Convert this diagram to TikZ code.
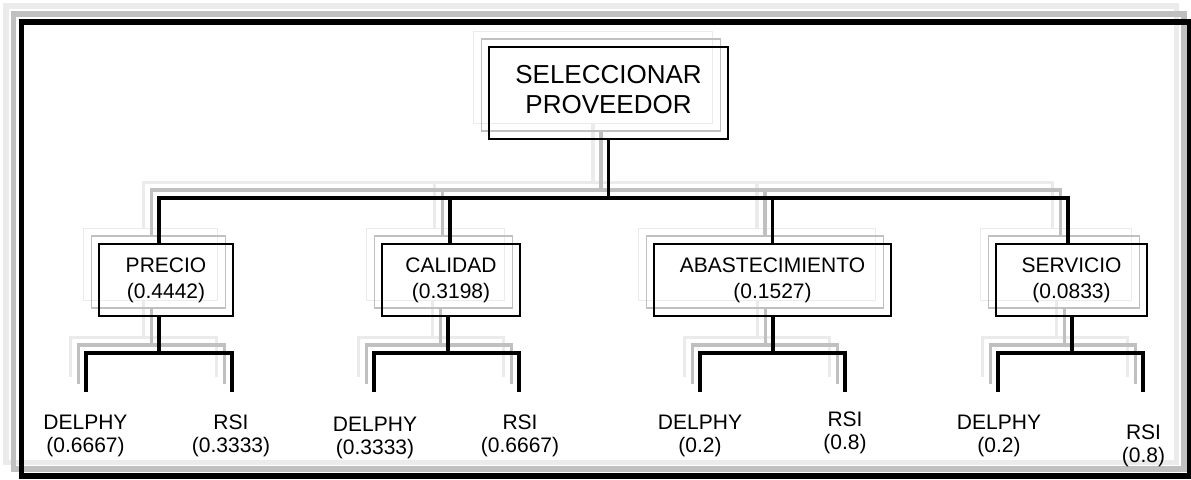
\documentclass[tikz,border=0pt]{standalone}
\usepackage{fontspec}
\setmainfont{Liberation Sans}

% one unit = one pixel of the drawing, y pointing down
\newdimen\px \px=0.75pt
\definecolor{shadelight}{HTML}{EBEBEB}
\definecolor{shademid}{HTML}{C0C0C0}
\newif\iflabels

\tikzset{
  box/.style={draw, rectangle, line width=1.5\px, inner sep=0pt, align=center,
              minimum height=72\px, font=\fontsize{15.75}{19.5}\selectfont},
  titlebox/.style={box, minimum width=239\px, minimum height=92\px,
              font=\fontsize{19.5}{22.5}\selectfont},
  wire/.style={line width=3.3\px},
  leaf/.style={align=center, inner sep=0pt, font=\fontsize{15.75}{17.25}\selectfont},
  border/.style={line width=5.5\px},
}

% stem below a box, the bar and the two drops to the alternatives
\newcommand\subtree[5]{% #1 prefix, #2 box, #3 stem x, #4 left x, #5 right x
  \coordinate (#1#2m) at (#3,353);
  \coordinate (#1#2l) at (#4,392);
  \coordinate (#1#2r) at (#5,392);
  \draw[wire] (#1#2.south -| #1#2m) -- (#1#2m);
  \draw[wire] (#1#2l) |- (#1#2m) -| (#1#2r);
}

% one copy of the hierarchy: boxes and connecting lines
\newcommand\treelayer[2]{% #1 name prefix, #2 colour
  \begin{scope}[color=#2]
    \node[titlebox] (#1top) at (608.5,93)
      {\iflabels SELECCIONAR\\PROVEEDOR\rule[-8\px]{0pt}{0pt}\fi};
    \node[box, minimum width=134\px] (#1p) at (166,280) {\iflabels PRECIO\\(0.4442)\fi};
    \node[box, minimum width=138\px] (#1c) at (451,280) {\iflabels CALIDAD\\(0.3198)\fi};
    \node[box, minimum width=237\px] (#1a) at (772.5,280) {\iflabels ABASTECIMIENTO\\(0.1527)\fi};
    \node[box, minimum width=151\px] (#1s) at (1071.5,280) {\iflabels SERVICIO\\(0.0833)\fi};
    % main bus
    \coordinate (#1jp) at (159,198);
    \coordinate (#1js) at (1068,198);
    \draw[wire] (#1top.south) -- (#1top.south |- #1jp);
    \draw[wire] (#1p.north -| #1jp) -- (#1jp) -- (#1js) -- (#1s.north -| #1js);
    \draw[wire] ([xshift=-1\px]#1c.north) -- ([xshift=-1\px]#1c.north |- #1jp);
    \draw[wire] (#1a.north) -- (#1a.north |- #1jp);
    % second level
    \subtree{#1}{p}{159}{86}{232}
    \subtree{#1}{c}{448}{374}{519}
    \subtree{#1}{a}{773}{700}{845}
    \subtree{#1}{s}{1072}{998}{1143}
  \end{scope}
}

\begin{document}
\begin{tikzpicture}[x=\px, y=-\px]
  \fill[white] (0,0) rectangle (1191,479);
  \useasboundingbox (0,0) rectangle (1191,479);

  % outer frame with its two shadow copies
  \draw[border, shadelight] (6,6) rectangle (1176.5,462.5);
  \draw[border, shademid] (13.7,14) rectangle (1184,469);
  \draw[border, black] (21.5,22) rectangle (1189.5,476);

  % shadow copies of the tree, then the tree itself
  \begin{scope}[shift={(-15.5,-15.5)}]
    \labelsfalse
    \treelayer{L}{shadelight}
  \end{scope}
  \begin{scope}[shift={(-7.5,-8)}]
    \labelsfalse
    \treelayer{M}{shademid}
  \end{scope}
  \labelstrue
  \treelayer{K}{black}

  % alternatives with their weights
  \node[leaf] (pd) at (85.5,436)  {DELPHY\\(0.6667)};
  \node[leaf] (pr) at (231,436)   {RSI\\(0.3333)};
  \node[leaf] (cd) at (375,438)   {DELPHY\\(0.3333)};
  \node[leaf] (cr) at (520,436)   {RSI\\(0.6667)};
  \node[leaf] (ad) at (700,436)   {DELPHY\\(0.2)};
  \node[leaf] (ar) at (845,433)   {RSI\\(0.8)};
  \node[leaf] (sd) at (999,436)   {DELPHY\\(0.2)};
  \node[leaf] (sr) at (1143.5,446) {RSI\\(0.8)};
\end{tikzpicture}
\end{document}
